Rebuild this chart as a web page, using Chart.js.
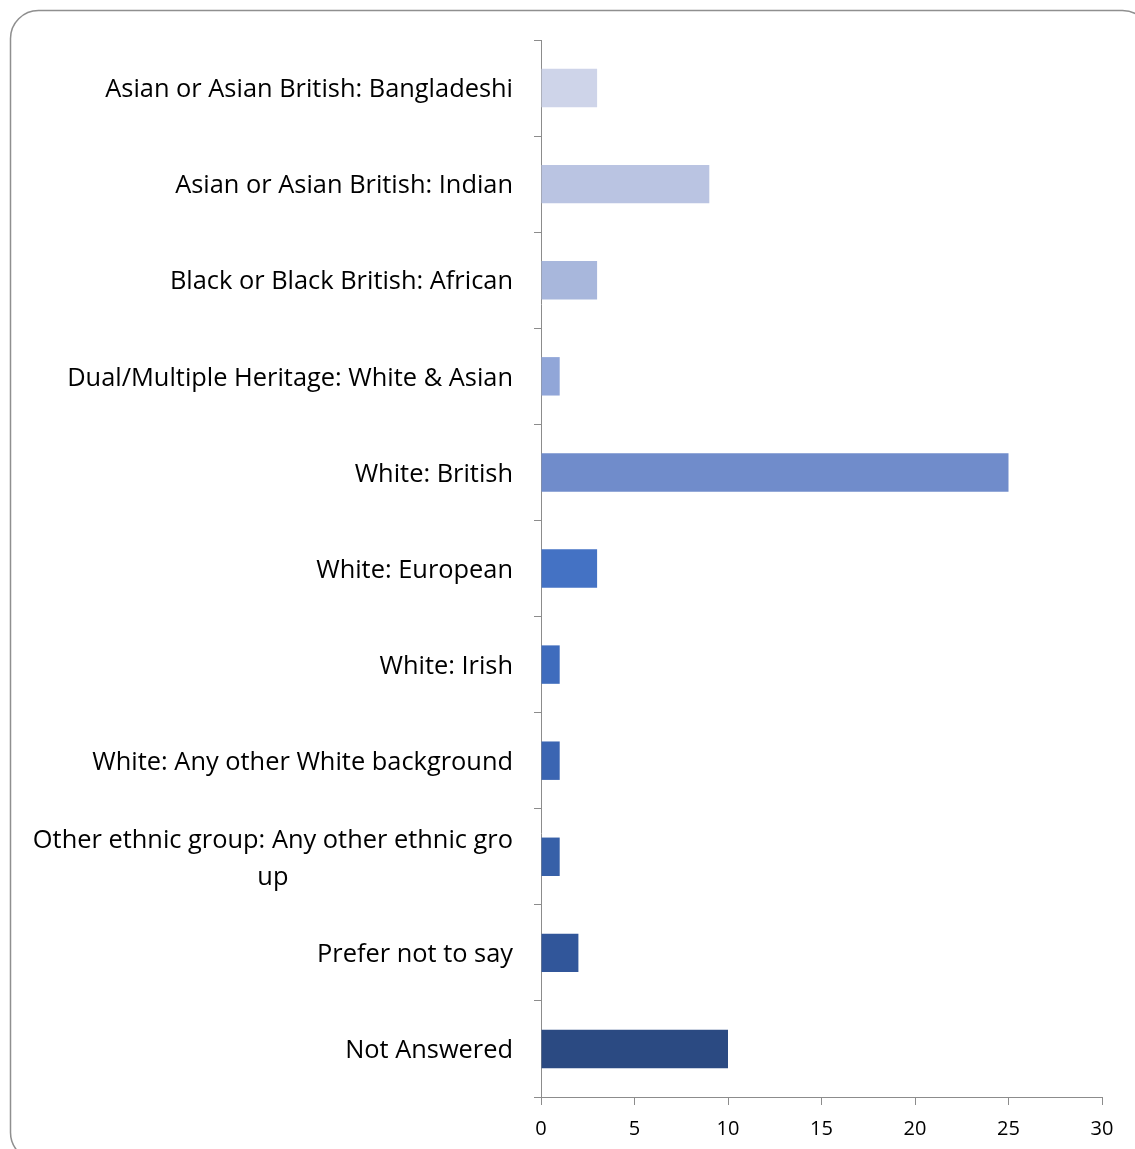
<!DOCTYPE html>
<html>
<head>
<meta charset="utf-8">
<script src="https://cdn.jsdelivr.net/npm/chart.js@4"></script>
<style>
  html, body { margin: 0; padding: 0; background: #fff; }
  #wrap { position: relative; width: 1135px; height: 1149px; }
</style>
</head>
<body>
<div id="wrap"><canvas id="chart"></canvas></div>
<script>
// Ethnic group responses (count of respondents)
const categories = [
  "Asian or Asian British: Bangladeshi",
  "Asian or Asian British: Indian",
  "Black or Black British: African",
  "Dual/Multiple Heritage: White & Asian",
  "White: British",
  "White: European",
  "White: Irish",
  "White: Any other White background",
  ["Other ethnic group: Any other ethnic gro", "up"],
  "Prefer not to say",
  "Not Answered"
];
const counts = [3, 9, 3, 1, 25, 3, 1, 1, 1, 2, 10];
const barColors = [
  "#CED4E9", "#BAC4E2", "#A8B7DC", "#91A6D8", "#708CCB",
  "#4472C4", "#3F6CBD", "#3B65B2", "#3760A8", "#31569A", "#2B4A82"
];
const xTicks = [0, 5, 10, 15, 20, 25, 30];

const LABEL_FONT = "25.4px 'Open Sans'";
const LABEL_GAP = 28;      // space between label block and the axis line
const LINE_HEIGHT = 37;
const LABEL_NUDGE = 2;     // optical vertical centring of the label text

// rounded frame behind the plot
const framePlugin = {
  id: "frame",
  beforeDraw(chart) {
    const ctx = chart.ctx;
    ctx.save();
    ctx.fillStyle = "#ffffff";
    ctx.fillRect(0, 0, chart.width, chart.height);
    const x = 10.5, y = 10.5, w = 1140, h = 1150, r = 28;
    ctx.beginPath();
    ctx.moveTo(x + r, y);
    ctx.lineTo(x + w - r, y);
    ctx.arcTo(x + w, y, x + w, y + r, r);
    ctx.lineTo(x + w, y + h - r);
    ctx.arcTo(x + w, y + h, x + w - r, y + h, r);
    ctx.lineTo(x + r, y + h);
    ctx.arcTo(x, y + h, x, y + h - r, r);
    ctx.lineTo(x, y + r);
    ctx.arcTo(x, y, x + r, y, r);
    ctx.closePath();
    ctx.strokeStyle = "#8f8f8f";
    ctx.lineWidth = 1.5;
    ctx.stroke();
    ctx.restore();
  }
};

// category labels: right-aligned block, wrapped lines centred within the block
const categoryLabelPlugin = {
  id: "categoryLabels",
  afterDraw(chart) {
    const yScale = chart.scales.y;
    const ctx = chart.ctx;
    const right = yScale.right - LABEL_GAP;
    ctx.save();
    ctx.font = LABEL_FONT;
    ctx.fillStyle = "#000";
    ctx.textBaseline = "middle";
    ctx.textAlign = "center";
    chart.data.labels.forEach((label, i) => {
      const lines = Array.isArray(label) ? label : [label];
      const cy = yScale.getPixelForValue(i) + LABEL_NUDGE;
      const maxW = Math.max(...lines.map(l => ctx.measureText(l).width));
      const cx = right - maxW / 2;
      lines.forEach((line, k) => {
        const ly = cy + (k - (lines.length - 1) / 2) * LINE_HEIGHT;
        ctx.fillText(line, cx, ly);
      });
    });
    ctx.restore();
  }
};

new Chart(document.getElementById("chart"), {
  type: "bar",
  data: {
    labels: categories,
    datasets: [{
      data: counts,
      backgroundColor: barColors,
      borderWidth: 0,
      categoryPercentage: 1.0,
      barPercentage: 0.4
    }]
  },
  options: {
    indexAxis: "y",
    responsive: true,
    maintainAspectRatio: false,
    animation: false,
    layout: { padding: { top: 40, right: 33, bottom: 0, left: 0 } },
    plugins: {
      legend: { display: false },
      tooltip: { enabled: false }
    },
    scales: {
      x: {
        min: 0,
        max: 30,
        afterBuildTicks(scale) {
          scale.ticks = xTicks.map(v => ({ value: v }));
        },
        afterFit(scale) { scale.height = 52; },
        grid: {
          drawOnChartArea: false,
          drawTicks: true,
          tickLength: 8,
          color: "#8c8c8c"
        },
        border: { color: "#8c8c8c", width: 1 },
        ticks: {
          color: "#000",
          font: { family: "Open Sans", size: 20 },
          padding: 12,
          maxRotation: 0
        }
      },
      y: {
        afterFit(scale) { scale.width = 541; },
        grid: {
          drawOnChartArea: false,
          drawTicks: true,
          tickLength: 7,
          offset: true,
          color: "#8c8c8c"
        },
        border: { color: "#8c8c8c", width: 1 },
        ticks: {
          display: false,
          autoSkip: false
        }
      }
    }
  },
  plugins: [framePlugin, categoryLabelPlugin]
});
</script>
</body>
</html>
